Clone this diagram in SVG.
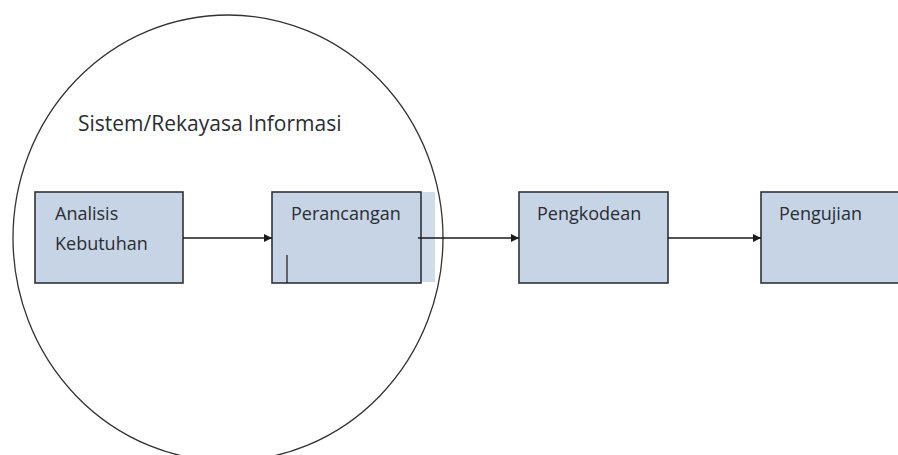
<svg xmlns="http://www.w3.org/2000/svg" width="898" height="455" viewBox="0 0 898 455">
  <defs>
    <style>
      .box { fill: #c7d4e6; stroke: #2e3238; stroke-width: 1.6; }
      .lbl { font-family: "Open Sans", "Liberation Sans", sans-serif; font-size: 18px; fill: #2a2d33; }
      .head { font-size: 21px; }
      .conn { stroke: #1a1a1a; stroke-width: 1.4; fill: none; marker-end: url(#arr); }
    </style>
    <marker id="arr" viewBox="0 0 10 10" refX="10" refY="5" markerWidth="8" markerHeight="8" markerUnits="userSpaceOnUse" orient="auto">
      <path d="M0,0 L10,5 L0,10 z" fill="#1a1a1a"/>
    </marker>
  </defs>
  <rect width="898" height="455" fill="#ffffff"/>

  <g id="scope">
    <ellipse cx="228" cy="238" rx="215" ry="223" fill="none" stroke="#333" stroke-width="1.3"/>
    <text class="lbl head" x="78" y="131">Sistem/Rekayasa Informasi</text>
  </g>

  <g id="node-analisis">
    <rect class="box" x="35" y="192" width="148" height="91"/>
    <text class="lbl" x="55" y="220">Analisis</text>
    <text class="lbl" x="55" y="250">Kebutuhan</text>
  </g>

  <g id="node-perancangan">
    <rect x="421" y="192" width="14" height="90" fill="#d1dcea"/>
    <rect class="box" x="272" y="192" width="149" height="91"/>
    <line x1="287" y1="255" x2="287" y2="283" stroke="#1a1a1a" stroke-width="1.2"/>
    <text class="lbl" x="291" y="220">Perancangan</text>
  </g>

  <g id="node-pengkodean">
    <rect class="box" x="519" y="192" width="149" height="91"/>
    <text class="lbl" x="537" y="220">Pengkodean</text>
  </g>

  <g id="node-pengujian">
    <rect class="box" x="761" y="192" width="150" height="91"/>
    <text class="lbl" x="779" y="220">Pengujian</text>
  </g>

  <g id="connectors">
    <line class="conn" x1="183" y1="238" x2="272" y2="238"/>
    <line class="conn" x1="418" y1="238" x2="519" y2="238"/>
    <line class="conn" x1="668" y1="238" x2="761" y2="238"/>
  </g>
</svg>
